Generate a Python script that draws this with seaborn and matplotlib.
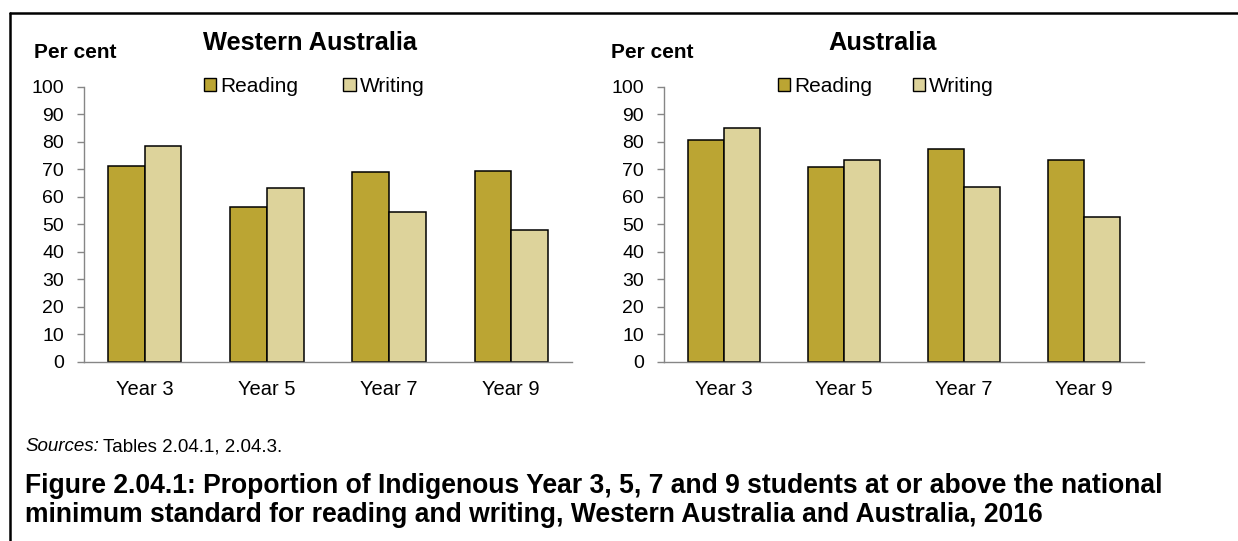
import numpy as np
import pandas as pd
import matplotlib
matplotlib.use("Agg")
import matplotlib.pyplot as plt
from matplotlib.patches import Patch
from matplotlib.lines import Line2D
import seaborn as sns

YEARS = ['Year 3', 'Year 5', 'Year 7', 'Year 9']
SUBJECTS = ['Reading', 'Writing']
WA_READING = [71.3, 56.4, 68.9, 69.3]
WA_WRITING = [78.5, 63.2, 54.3, 48.0]
AUS_READING = [80.6, 70.8, 77.5, 73.5]
AUS_WRITING = [85.1, 73.3, 63.4, 52.5]
COLOURS = {'Reading': '#BBA533', 'Writing': '#DDD39B'}

W, H = 1238, 541

def long_df(reading, writing):
    rows = []
    for yr, r, w in zip(YEARS, reading, writing):
        rows.append({'year': yr, 'subject': 'Reading', 'value': r})
        rows.append({'year': yr, 'subject': 'Writing', 'value': w})
    return pd.DataFrame(rows)

sns.set_theme(style='white')
plt.rcParams['font.family'] = ['Liberation Sans', 'DejaVu Sans']
plt.rcParams['text.color'] = 'black'
plt.rcParams['xtick.color'] = 'black'
plt.rcParams['ytick.color'] = 'black'

fig = plt.figure(figsize=(W / 100, H / 100), dpi=100)
fig.patch.set_facecolor('white')

panels = [
    # (title, reading, writing, axes left px, axes right px, title centre x, per cent x, legend x, col spacing)
    ('Western Australia', WA_READING, WA_WRITING, 83.8, 572.2, 310, 33.6, 203.6, 2.19),
    ('Australia', AUS_READING, AUS_WRITING, 663.9, 1144.3, 882.8, 611.4, 777.8, 1.95),
]

y0_px, y100_px = 361.7, 86.7

for title, rd, wr, xl, xr, tx, pcx, lgx, cs in panels:
    ax = fig.add_axes([xl / W, 1 - y0_px / H, (xr - xl) / W, (y0_px - y100_px) / H])
    df = long_df(rd, wr)
    sns.barplot(data=df, x='year', y='value', hue='subject', order=YEARS,
                hue_order=SUBJECTS, palette=COLOURS, saturation=1, width=0.6,
                edgecolor='black', linewidth=1.1, legend=False, ax=ax)
    ax.set_xlim(-0.5, 3.5)
    ax.set_ylim(0, 100)
    ax.set_yticks(np.arange(0, 101, 10))
    ax.set_xlabel('')
    ax.set_ylabel('')
    for s in ['top', 'right']:
        ax.spines[s].set_visible(False)
    for s in ['left', 'bottom']:
        ax.spines[s].set_color('#868686')
        ax.spines[s].set_linewidth(1.0)
    ax.set_xticks(np.arange(-0.5, 4, 1), minor=True)
    ax.tick_params(axis='x', which='major', length=0, pad=13, labelsize=14.5, labelcolor='black')
    ax.tick_params(axis='x', which='minor', length=4.8, width=1.0, color='#868686', direction='out')
    ax.tick_params(axis='y', length=4.8, width=1.0, color='#868686', direction='out',
                   pad=9.5, labelsize=14, labelcolor='black', left=True)

    fig.text(tx / W, 1 - 43.3 / H, title, ha='center', va='center',
             fontsize=18.3, fontweight='bold')
    fig.text(pcx / W, 1 - 52 / H, 'Per cent', ha='left', va='center',
             fontsize=15, fontweight='bold')
    handles = [Patch(facecolor=COLOURS[s], edgecolor='black', linewidth=1.0) for s in SUBJECTS]
    ax.legend(handles, SUBJECTS, loc='center left', bbox_to_anchor=(lgx / W, 1 - 86 / H),
              bbox_transform=fig.transFigure, ncol=2, frameon=False, fontsize=15,
              handlelength=0.58, handleheight=0.58, handletextpad=0.2,
              columnspacing=cs, borderpad=0, borderaxespad=0)

# sources line: italic label followed by plain text
src = fig.text(25 / W, 1 - 446.7 / H, 'Sources:', ha='left', va='center', fontsize=13.5, style='italic')
renderer = fig.canvas.get_renderer()
x_end = src.get_window_extent(renderer).x1
fig.text((x_end + 4) / W, 1 - 446.7 / H, 'Tables 2.04.1, 2.04.3.', ha='left', va='center', fontsize=13.5)

fig.text(25 / W, 1 - 485.7 / H,
         'Figure 2.04.1: Proportion of Indigenous Year 3, 5, 7 and 9 students at or above the national',
         ha='left', va='center', fontsize=19.1, fontweight='bold')
fig.text(25 / W, 1 - 515 / H,
         'minimum standard for reading and writing, Western Australia and Australia, 2016',
         ha='left', va='center', fontsize=19.1, fontweight='bold')

# frame lines (top and left only)
fig.add_artist(Line2D([9.5 / W, 1], [1 - 12.7 / H, 1 - 12.7 / H], transform=fig.transFigure,
                      color='black', linewidth=1.8))
fig.add_artist(Line2D([9.5 / W, 9.5 / W], [0, 1 - 12.7 / H], transform=fig.transFigure,
                      color='black', linewidth=1.8))

fig.savefig('out.png', dpi=100, facecolor='white')
